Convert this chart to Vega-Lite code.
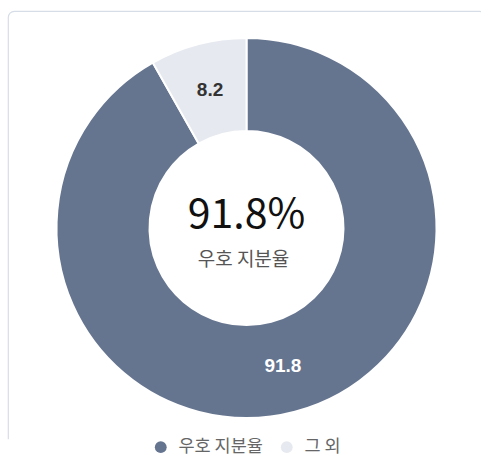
{
  "$schema": "https://vega.github.io/schema/vega-lite/v6.json",
  "width": 477,
  "height": 434,
  "autosize": "none",
  "padding": {"left": 8, "top": 11, "right": 0, "bottom": 29},
  "background": "white",
  "view": {"stroke": "#d6dde7", "strokeWidth": 1.2, "cornerRadius": 6, "strokeDash": [896.4, 483.8, 500], "fill": null},
  "config": {
    "font": "Noto Sans CJK KR"
  },
  "datasets": {
    "share": [
      {"category": "우호 지분율", "value": 91.8},
      {"category": "그 외", "value": 8.2}
    ],
    "center": [{"big": "91.8%", "small": "우호 지분율"}]
  },
  "layer": [
    {
      "data": {"name": "share"},
      "mark": {"type": "arc", "radius": 190, "innerRadius": 97, "stroke": "white", "strokeWidth": 2},
      "encoding": {
        "theta": {"field": "value", "type": "quantitative", "stack": true},
        "order": {"field": "value", "sort": "descending"},
        "color": {
          "field": "category",
          "type": "nominal",
          "sort": ["우호 지분율", "그 외"],
          "scale": {"domain": ["우호 지분율", "그 외"], "range": ["#65748f", "#e6e9ef"]},
          "legend": {
            "title": null,
            "orient": "none",
            "direction": "horizontal",
            "legendX": 144,
            "legendY": 427,
            "symbolType": "circle",
            "symbolSize": 140,
            "symbolStrokeWidth": 0,
            "symbolOpacity": 1,
            "labelFontSize": 17.5,
            "labelColor": "#666666",
            "labelFont": "Noto Sans CJK KR",
            "labelOffset": 9,
            "columnPadding": 15,
            "padding": 0
          }
        }
      }
    },
    {
      "data": {"name": "share"},
      "mark": {"type": "text", "radius": 143, "fontSize": 19, "fontWeight": "bold", "font": "Liberation Sans"},
      "encoding": {
        "theta": {"field": "value", "type": "quantitative", "stack": true},
        "order": {"field": "value", "sort": "descending"},
        "text": {"field": "value", "type": "quantitative", "format": ".1f"},
        "color": {"condition": {"test": "datum.value > 50", "value": "white"}, "value": "#333333"}
      }
    },
    {
      "data": {"name": "center"},
      "mark": {"type": "text", "fontSize": 41, "baseline": "alphabetic", "color": "#111111", "dy": 0},
      "encoding": {"text": {"field": "big"}}
    },
    {
      "data": {"name": "center"},
      "mark": {"type": "text", "fontSize": 19, "baseline": "alphabetic", "color": "#555555", "dy": 38, "dx": -3},
      "encoding": {"text": {"field": "small"}}
    }
  ]
}
